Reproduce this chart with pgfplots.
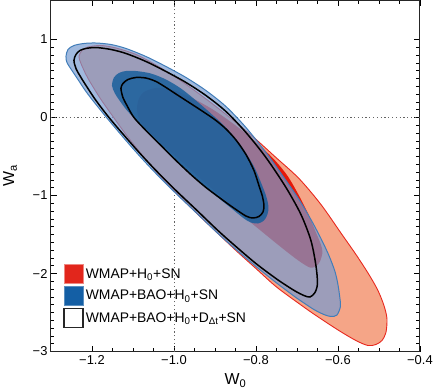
\documentclass[border=0pt]{standalone}
\usepackage{fontspec}
\setmainfont{Liberation Sans}
\usepackage{pgfplots}
\pgfplotsset{compat=1.18}
\definecolor{salmon}{RGB}{245,165,135}
\definecolor{redline}{RGB}{232,40,30}
\definecolor{redinner}{RGB}{230,25,10}
\definecolor{blueouter}{RGB}{119,155,208}
\definecolor{blueline}{RGB}{65,125,185}
\definecolor{blueinner}{RGB}{25,95,156}
\definecolor{legred}{RGB}{226,38,28}
\definecolor{legblue}{RGB}{20,95,165}
\definecolor{dotgray}{RGB}{100,100,100}

\begin{document}
\begin{tikzpicture}
\begin{axis}[
    width=370bp, height=352bp, scale only axis,
    xmin=-1.3, xmax=-0.4, ymin=-3, ymax=1.5,
    xtick={-1.2,-1.0,-0.8,-0.6,-0.4},
    xticklabels={−1.2,−1.0,−0.8,−0.6,−0.4},
    ytick={-3,-2,-1,0,1},
    yticklabels={−3,−2,−1,0,1},
    minor x tick num=3,
    minor y tick num=9,
    tick align=inside,
    major tick length=6bp,
    minor tick length=3.5bp,
    every tick/.style={black, line width=0.7bp},
    axis line style={line width=1bp, black!85},
    tick label style={font=\fontsize{13}{15}\selectfont},
    xlabel={W\textsubscript{0}},
    ylabel={W\textsubscript{a}},
    label style={font=\fontsize{16}{18}\selectfont},
    xlabel style={yshift=-3bp},
    ylabel style={yshift=9bp},
    legend image code/.code={\draw[#1] (0bp,-9.5bp) rectangle (19bp,9.5bp);},
    legend style={at={(0.025,0.255)}, anchor=north west, draw=none, fill=none,
                  font=\fontsize{14}{16}\selectfont, row sep=2bp,
                  legend cell align=left},
]
% reference lines
\addplot[forget plot, dotgray, line width=0.9bp, dash pattern=on 1.2bp off 2.6bp]
  coordinates {(-1,-3) (-1,1.5)};
\addplot[forget plot, dotgray, line width=0.9bp, dash pattern=on 1.2bp off 2.6bp]
  coordinates {(-1.3,0) (-0.4,0)};

% WMAP+H0+SN, 95%
\addplot[forget plot, smooth cycle, tension=0.5, fill=salmon, draw=redline, line width=0.9bp]
  coordinates {
  (-1.2317,0.782) (-1.2244,0.859) (-1.2098,0.904) (-1.1780,0.923) (-1.1415,0.891)
  (-1.0927,0.808) (-1.0439,0.673) (-0.9951,0.513) (-0.9463,0.333) (-0.8976,0.141)
  (-0.8488,-0.064) (-0.8024,-0.269) (-0.7512,-0.513) (-0.6951,-0.782) (-0.6415,-1.115)
  (-0.5902,-1.500) (-0.5561,-1.756) (-0.5244,-2.013) (-0.5024,-2.218) (-0.4878,-2.410)
  (-0.4805,-2.577) (-0.4829,-2.756) (-0.4927,-2.859) (-0.5073,-2.910) (-0.5268,-2.923)
  (-0.5561,-2.859) (-0.5976,-2.731) (-0.6537,-2.538) (-0.6951,-2.385) (-0.7512,-2.167)
  (-0.8000,-1.936) (-0.8488,-1.705) (-0.8927,-1.487) (-0.9463,-1.218) (-0.9951,-0.962)
  (-1.0439,-0.692) (-1.0805,-0.462) (-1.1171,-0.218) (-1.1488,0.013) (-1.1780,0.231)
  (-1.2024,0.436) (-1.2146,0.551) (-1.2268,0.692)
  };
% WMAP+H0+SN, 68%
\addplot[forget plot, smooth cycle, tension=0.5, fill=redinner, draw=none]
  coordinates {
  (-1.0902,0.115) (-1.0854,0.244) (-1.0732,0.327) (-1.0512,0.372) (-1.0317,0.378)
  (-0.9976,0.346) (-0.9463,0.224) (-0.8976,0.077) (-0.8366,-0.154) (-0.7878,-0.372)
  (-0.7512,-0.564) (-0.7220,-0.756) (-0.6951,-1.000) (-0.6707,-1.256) (-0.6537,-1.474)
  (-0.6415,-1.628) (-0.6378,-1.731) (-0.6439,-1.846) (-0.6537,-1.910) (-0.6683,-1.923)
  (-0.6878,-1.865) (-0.7098,-1.782) (-0.7439,-1.641) (-0.7829,-1.474) (-0.8244,-1.295)
  (-0.8659,-1.103) (-0.9220,-0.846) (-0.9707,-0.615) (-1.0195,-0.385) (-1.0683,-0.141)
  (-1.0854,-0.013)
  };
% WMAP+BAO+H0+SN, 95%
\addplot[forget plot, smooth cycle, tension=0.5, fill=blueouter, fill opacity=0.7,
         draw=blueline, line width=1bp]
  coordinates {
  (-1.2634,0.782) (-1.2585,0.872) (-1.2439,0.923) (-1.2195,0.949) (-1.1902,0.955)
  (-1.1537,0.936) (-1.1171,0.885) (-1.0683,0.782) (-1.0195,0.654) (-0.9707,0.513)
  (-0.9220,0.346) (-0.8732,0.141) (-0.8244,-0.128) (-0.7756,-0.449) (-0.7268,-0.808)
  (-0.6951,-1.051) (-0.6659,-1.308) (-0.6415,-1.551) (-0.6220,-1.769) (-0.6073,-1.974)
  (-0.6000,-2.141) (-0.5951,-2.321) (-0.5939,-2.423) (-0.6024,-2.532) (-0.6171,-2.551)
  (-0.6341,-2.526) (-0.6585,-2.462) (-0.6829,-2.378) (-0.7024,-2.308) (-0.7220,-2.231)
  (-0.7512,-2.115) (-0.8000,-1.910) (-0.8488,-1.692) (-0.8927,-1.487) (-0.9463,-1.218)
  (-0.9951,-0.974) (-1.0439,-0.718) (-1.0805,-0.513) (-1.1171,-0.295) (-1.1585,-0.038)
  (-1.1902,0.167) (-1.2146,0.333) (-1.2341,0.487) (-1.2488,0.603) (-1.2610,0.705)
  };
% WMAP+BAO+H0+SN, 68%
\addplot[forget plot, smooth cycle, tension=0.5, fill=blueinner, fill opacity=0.85, draw=none]
  coordinates {
  (-1.1512,0.410) (-1.1463,0.513) (-1.1341,0.571) (-1.1171,0.596) (-1.0927,0.596)
  (-1.0561,0.564) (-1.0195,0.487) (-0.9829,0.372) (-0.9463,0.218) (-0.9098,0.051)
  (-0.8732,-0.128) (-0.8366,-0.359) (-0.8049,-0.628) (-0.7878,-0.833) (-0.7756,-1.000)
  (-0.7695,-1.141) (-0.7720,-1.244) (-0.7805,-1.321) (-0.7951,-1.359) (-0.8122,-1.346)
  (-0.8293,-1.295) (-0.8610,-1.160) (-0.8927,-1.026) (-0.9220,-0.897) (-0.9561,-0.744)
  (-0.9951,-0.551) (-1.0317,-0.359) (-1.0683,-0.167) (-1.0976,-0.006) (-1.1146,0.090)
  (-1.1293,0.192) (-1.1439,0.308)
  };
% WMAP+BAO+H0+Ddt+SN, 95%
\addplot[forget plot, smooth cycle, tension=0.5, draw=black, line width=1.5bp]
  coordinates {
  (-1.2439,0.731) (-1.2390,0.808) (-1.2293,0.859) (-1.2146,0.885) (-1.1902,0.897)
  (-1.1537,0.872) (-1.1171,0.821) (-1.0683,0.718) (-1.0195,0.590) (-0.9707,0.449)
  (-0.9220,0.282) (-0.8732,0.077) (-0.8244,-0.192) (-0.7756,-0.513) (-0.7268,-0.897)
  (-0.6902,-1.244) (-0.6659,-1.577) (-0.6537,-1.897) (-0.6500,-2.128) (-0.6561,-2.244)
  (-0.6683,-2.301) (-0.6829,-2.282) (-0.7024,-2.231) (-0.7220,-2.167) (-0.7512,-2.064)
  (-0.8000,-1.872) (-0.8488,-1.654) (-0.8927,-1.449) (-0.9463,-1.179) (-0.9951,-0.936)
  (-1.0439,-0.679) (-1.0805,-0.474) (-1.1171,-0.256) (-1.1585,0.000) (-1.1902,0.218)
  (-1.2098,0.372) (-1.2268,0.513) (-1.2390,0.628)
  };
% WMAP+BAO+H0+Ddt+SN, 68%
\addplot[forget plot, smooth cycle, tension=0.5, draw=black, line width=1.5bp]
  coordinates {
  (-1.1293,0.372) (-1.1244,0.436) (-1.1122,0.487) (-1.0927,0.513) (-1.0683,0.506)
  (-1.0439,0.462) (-1.0195,0.385) (-0.9951,0.301) (-0.9707,0.218) (-0.9463,0.135)
  (-0.9220,0.051) (-0.8976,-0.038) (-0.8732,-0.147) (-0.8488,-0.288) (-0.8244,-0.474)
  (-0.8049,-0.679) (-0.7927,-0.872) (-0.7841,-1.013) (-0.7805,-1.128) (-0.7829,-1.212)
  (-0.7927,-1.269) (-0.8073,-1.288) (-0.8244,-1.263) (-0.8610,-1.135) (-0.8927,-1.013)
  (-0.9220,-0.897) (-0.9561,-0.744) (-0.9951,-0.551) (-1.0317,-0.359) (-1.0683,-0.167)
  (-1.0976,0.000) (-1.1146,0.154) (-1.1244,0.256)
  };

\addlegendimage{fill=legred, draw=legred!55, line width=0.8bp}
\addlegendentry{WMAP+H\textsubscript{0}+SN}
\addlegendimage{fill=legblue, draw=legblue!70, line width=0.8bp}
\addlegendentry{WMAP+BAO+H\textsubscript{0}+SN}
\addlegendimage{fill=white, draw=black!85, line width=1.5bp}
\addlegendentry{WMAP+BAO+H\textsubscript{0}+D\textsubscript{Δt}+SN}
\end{axis}
\end{tikzpicture}
\end{document}
